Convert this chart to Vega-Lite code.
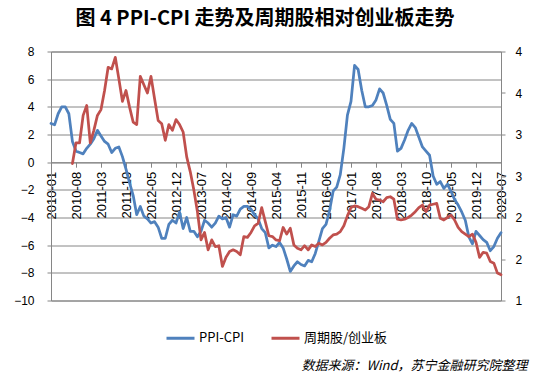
{
  "$schema": "https://vega.github.io/schema/vega-lite/v6.json",
  "width": 450,
  "height": 249,
  "autosize": {"type": "none"},
  "padding": {"left": 51, "top": 51.5, "right": 40, "bottom": 77.5},
  "background": "white",
  "title": {
    "text": "图 4 PPI-CPI 走势及周期股相对创业板走势",
    "font": "Noto Sans CJK SC",
    "fontSize": 20,
    "fontWeight": "bold",
    "color": "#000000",
    "anchor": "middle",
    "dx": -11,
    "offset": -3,
    "baseline": "bottom"
  },
  "data": {
    "values": [
      {"date": "2010-01", "ppi": 2.8, "ratio": null},
      {"date": "2010-02", "ppi": 2.7, "ratio": null},
      {"date": "2010-03", "ppi": 3.5, "ratio": null},
      {"date": "2010-04", "ppi": 4.0, "ratio": null},
      {"date": "2010-05", "ppi": 4.0, "ratio": null},
      {"date": "2010-06", "ppi": 3.5, "ratio": null},
      {"date": "2010-07", "ppi": 1.5, "ratio": 2.65},
      {"date": "2010-08", "ppi": 0.8, "ratio": 2.90},
      {"date": "2010-09", "ppi": 0.7, "ratio": 2.90},
      {"date": "2010-10", "ppi": 0.6, "ratio": 3.23},
      {"date": "2010-11", "ppi": 1.0, "ratio": 3.35},
      {"date": "2010-12", "ppi": 1.3, "ratio": 2.90},
      {"date": "2011-01", "ppi": 1.7, "ratio": 3.05},
      {"date": "2011-02", "ppi": 2.3, "ratio": 3.23},
      {"date": "2011-03", "ppi": 1.9, "ratio": 3.30},
      {"date": "2011-04", "ppi": 1.5, "ratio": 3.53},
      {"date": "2011-05", "ppi": 1.3, "ratio": 3.81},
      {"date": "2011-06", "ppi": 0.7, "ratio": 3.79},
      {"date": "2011-07", "ppi": 1.0, "ratio": 3.93},
      {"date": "2011-08", "ppi": 1.1, "ratio": 3.67},
      {"date": "2011-09", "ppi": 0.4, "ratio": 3.40},
      {"date": "2011-10", "ppi": -0.5, "ratio": 3.53},
      {"date": "2011-11", "ppi": -1.5, "ratio": 3.33},
      {"date": "2011-12", "ppi": -2.4, "ratio": 3.15},
      {"date": "2012-01", "ppi": -3.8, "ratio": 3.12},
      {"date": "2012-02", "ppi": -3.2, "ratio": 3.70},
      {"date": "2012-03", "ppi": -3.9, "ratio": 3.60},
      {"date": "2012-04", "ppi": -4.1, "ratio": 3.50},
      {"date": "2012-05", "ppi": -4.4, "ratio": 3.70},
      {"date": "2012-06", "ppi": -4.3, "ratio": 3.43},
      {"date": "2012-07", "ppi": -4.7, "ratio": 3.17},
      {"date": "2012-08", "ppi": -5.5, "ratio": 3.13},
      {"date": "2012-09", "ppi": -5.5, "ratio": 2.93},
      {"date": "2012-10", "ppi": -4.5, "ratio": 3.12},
      {"date": "2012-11", "ppi": -4.2, "ratio": 3.05},
      {"date": "2012-12", "ppi": -4.4, "ratio": 3.18},
      {"date": "2013-01", "ppi": -3.6, "ratio": 3.12},
      {"date": "2013-02", "ppi": -4.8, "ratio": 3.03},
      {"date": "2013-03", "ppi": -4.0, "ratio": 2.73},
      {"date": "2013-04", "ppi": -5.0, "ratio": 2.55},
      {"date": "2013-05", "ppi": -5.0, "ratio": 2.33},
      {"date": "2013-06", "ppi": -5.4, "ratio": 2.07},
      {"date": "2013-07", "ppi": -5.0, "ratio": 1.73},
      {"date": "2013-08", "ppi": -4.2, "ratio": 1.82},
      {"date": "2013-09", "ppi": -4.4, "ratio": 1.61},
      {"date": "2013-10", "ppi": -4.7, "ratio": 1.73},
      {"date": "2013-11", "ppi": -4.4, "ratio": 1.65},
      {"date": "2013-12", "ppi": -3.9, "ratio": 1.66},
      {"date": "2014-01", "ppi": -4.1, "ratio": 1.41},
      {"date": "2014-02", "ppi": -4.0, "ratio": 1.52},
      {"date": "2014-03", "ppi": -4.7, "ratio": 1.59},
      {"date": "2014-04", "ppi": -3.8, "ratio": 1.61},
      {"date": "2014-05", "ppi": -3.9, "ratio": 1.59},
      {"date": "2014-06", "ppi": -3.4, "ratio": 1.55},
      {"date": "2014-07", "ppi": -3.2, "ratio": 1.77},
      {"date": "2014-08", "ppi": -3.2, "ratio": 1.76},
      {"date": "2014-09", "ppi": -3.4, "ratio": 1.82},
      {"date": "2014-10", "ppi": -3.8, "ratio": 1.90},
      {"date": "2014-11", "ppi": -4.1, "ratio": 1.93},
      {"date": "2014-12", "ppi": -4.8, "ratio": 2.12},
      {"date": "2015-01", "ppi": -5.1, "ratio": 1.95},
      {"date": "2015-02", "ppi": -6.2, "ratio": 1.78},
      {"date": "2015-03", "ppi": -6.0, "ratio": 1.77},
      {"date": "2015-04", "ppi": -6.1, "ratio": 1.73},
      {"date": "2015-05", "ppi": -5.8, "ratio": 1.72},
      {"date": "2015-06", "ppi": -6.2, "ratio": 1.88},
      {"date": "2015-07", "ppi": -7.0, "ratio": 1.80},
      {"date": "2015-08", "ppi": -7.9, "ratio": 1.87},
      {"date": "2015-09", "ppi": -7.5, "ratio": 1.67},
      {"date": "2015-10", "ppi": -7.2, "ratio": 1.63},
      {"date": "2015-11", "ppi": -7.4, "ratio": 1.61},
      {"date": "2015-12", "ppi": -7.5, "ratio": 1.66},
      {"date": "2016-01", "ppi": -7.1, "ratio": 1.61},
      {"date": "2016-02", "ppi": -7.2, "ratio": 1.67},
      {"date": "2016-03", "ppi": -6.6, "ratio": 1.65},
      {"date": "2016-04", "ppi": -5.7, "ratio": 1.69},
      {"date": "2016-05", "ppi": -4.8, "ratio": 1.67},
      {"date": "2016-06", "ppi": -4.5, "ratio": 1.70},
      {"date": "2016-07", "ppi": -3.5, "ratio": 1.75},
      {"date": "2016-08", "ppi": -2.1, "ratio": 1.79},
      {"date": "2016-09", "ppi": -1.8, "ratio": 1.80},
      {"date": "2016-10", "ppi": -0.9, "ratio": 1.83},
      {"date": "2016-11", "ppi": 1.0, "ratio": 1.90},
      {"date": "2016-12", "ppi": 3.4, "ratio": 2.02},
      {"date": "2017-01", "ppi": 4.4, "ratio": 2.12},
      {"date": "2017-02", "ppi": 7.0, "ratio": 2.14},
      {"date": "2017-03", "ppi": 6.7, "ratio": 2.13},
      {"date": "2017-04", "ppi": 5.2, "ratio": 2.11},
      {"date": "2017-05", "ppi": 4.0, "ratio": 2.09},
      {"date": "2017-06", "ppi": 4.0, "ratio": 2.13},
      {"date": "2017-07", "ppi": 4.1, "ratio": 2.29},
      {"date": "2017-08", "ppi": 4.5, "ratio": 2.22},
      {"date": "2017-09", "ppi": 5.3, "ratio": 2.21},
      {"date": "2017-10", "ppi": 5.0, "ratio": 2.19},
      {"date": "2017-11", "ppi": 4.1, "ratio": 2.24},
      {"date": "2017-12", "ppi": 3.1, "ratio": 2.25},
      {"date": "2018-01", "ppi": 2.8, "ratio": 2.22},
      {"date": "2018-02", "ppi": 0.8, "ratio": 1.98},
      {"date": "2018-03", "ppi": 1.0, "ratio": 1.97},
      {"date": "2018-04", "ppi": 1.6, "ratio": 1.98},
      {"date": "2018-05", "ppi": 2.3, "ratio": 2.00},
      {"date": "2018-06", "ppi": 2.8, "ratio": 2.03},
      {"date": "2018-07", "ppi": 2.5, "ratio": 2.07},
      {"date": "2018-08", "ppi": 1.8, "ratio": 2.12},
      {"date": "2018-09", "ppi": 1.1, "ratio": 2.15},
      {"date": "2018-10", "ppi": 0.8, "ratio": 2.07},
      {"date": "2018-11", "ppi": 0.5, "ratio": 2.15},
      {"date": "2018-12", "ppi": -1.0, "ratio": 2.16},
      {"date": "2019-01", "ppi": -1.6, "ratio": 2.17},
      {"date": "2019-02", "ppi": -1.4, "ratio": 1.99},
      {"date": "2019-03", "ppi": -1.9, "ratio": 1.97},
      {"date": "2019-04", "ppi": -1.6, "ratio": 2.00},
      {"date": "2019-05", "ppi": -2.1, "ratio": 2.03},
      {"date": "2019-06", "ppi": -2.7, "ratio": 1.97},
      {"date": "2019-07", "ppi": -3.1, "ratio": 1.88},
      {"date": "2019-08", "ppi": -3.6, "ratio": 1.83},
      {"date": "2019-09", "ppi": -4.2, "ratio": 1.80},
      {"date": "2019-10", "ppi": -5.4, "ratio": 1.77},
      {"date": "2019-11", "ppi": -5.9, "ratio": 1.80},
      {"date": "2019-12", "ppi": -5.0, "ratio": 1.70},
      {"date": "2020-01", "ppi": -5.3, "ratio": 1.52},
      {"date": "2020-02", "ppi": -5.6, "ratio": 1.58},
      {"date": "2020-03", "ppi": -5.8, "ratio": 1.57},
      {"date": "2020-04", "ppi": -6.4, "ratio": 1.47},
      {"date": "2020-05", "ppi": -6.1, "ratio": 1.45},
      {"date": "2020-06", "ppi": -5.5, "ratio": 1.33},
      {"date": "2020-07", "ppi": -5.1, "ratio": 1.31}
    ]
  },
  "encoding": {
    "x": {
      "field": "date",
      "type": "ordinal",
      "scale": {"type": "point", "padding": 0},
      "axis": {
        "values": ["2010-01", "2010-08", "2011-03", "2011-10", "2012-05", "2012-12", "2013-07", "2014-02", "2014-09", "2015-04", "2015-11", "2016-06", "2017-01", "2017-08", "2018-03", "2018-10", "2019-05", "2019-12", "2020-07"],
        "labelAngle": -90,
        "offset": -138.3,
        "title": null,
        "grid": false,
        "tickSize": 5,
        "labelPadding": 4,
        "labelFont": "Liberation Sans",
        "labelFontSize": 13,
        "labelColor": "#000000",
        "labelOverlap": false,
        "labelBound": false,
        "labelFlush": false
      }
    }
  },
  "layer": [
    {
      "mark": {"type": "line", "strokeWidth": 2.75, "strokeJoin": "round", "strokeCap": "round"},
      "encoding": {
        "y": {
          "field": "ppi",
          "type": "quantitative",
          "scale": {"domain": [-10, 8], "nice": false, "zero": false},
          "axis": {
            "orient": "left",
            "values": [-10, -8, -6, -4, -2, 0, 2, 4, 6, 8],
            "title": null,
            "grid": true,
            "gridColor": "#868686",
            "tickSize": 4,
            "labelPadding": 13,
            "labelFont": "Liberation Sans",
            "labelFontSize": 12,
            "labelColor": "#000000",
            "labelFlush": false,
            "labelOverlap": false
          }
        },
        "color": {
          "datum": "PPI-CPI",
          "type": "nominal",
          "scale": {"domain": ["PPI-CPI", "周期股/创业板"], "range": ["#4F81BD", "#C0504D"]},
          "legend": {
            "orient": "none",
            "legendX": 114,
            "legendY": 271,
            "direction": "horizontal",
            "title": null,
            "symbolType": "stroke",
            "symbolSize": 784,
            "symbolStrokeWidth": 3,
            "labelFont": "Noto Sans CJK SC",
            "labelFontSize": 13,
            "labelColor": "#000000",
            "labelOffset": 3,
            "columnPadding": 20,
            "padding": 0
          }
        }
      }
    },
    {
      "mark": {"type": "line", "strokeWidth": 2.75, "strokeJoin": "round", "strokeCap": "round"},
      "encoding": {
        "y": {
          "field": "ratio",
          "type": "quantitative",
          "scale": {"domain": [1, 4], "nice": false, "zero": false},
          "axis": {
            "orient": "right",
            "values": [1, 1.5, 2, 2.5, 3, 3.5, 4],
            "labelExpr": "'' + round(datum.value)",
            "grid": false,
            "tickSize": 4,
            "labelPadding": 10,
            "labelFont": "Liberation Sans",
            "labelFontSize": 12,
            "labelColor": "#000000",
            "labelFlush": false,
            "labelOverlap": false,
            "title": "数据来源：Wind，苏宁金融研究院整理",
            "titleAngle": 0,
            "titleAlign": "right",
            "titleBaseline": "middle",
            "titleX": 26,
            "titleY": 313.5,
            "titleFont": "Noto Sans CJK SC",
            "titleFontSize": 13,
            "titleFontStyle": "italic",
            "titleFontWeight": "normal",
            "titleColor": "#000000"
          }
        },
        "color": {
          "datum": "周期股/创业板",
          "type": "nominal",
          "scale": {"domain": ["PPI-CPI", "周期股/创业板"], "range": ["#4F81BD", "#C0504D"]}
        }
      }
    }
  ],
  "resolve": {"scale": {"y": "independent"}},
  "config": {
    "view": {"stroke": "#868686"},
    "axis": {"domainColor": "#868686", "tickColor": "#868686"}
  }
}
